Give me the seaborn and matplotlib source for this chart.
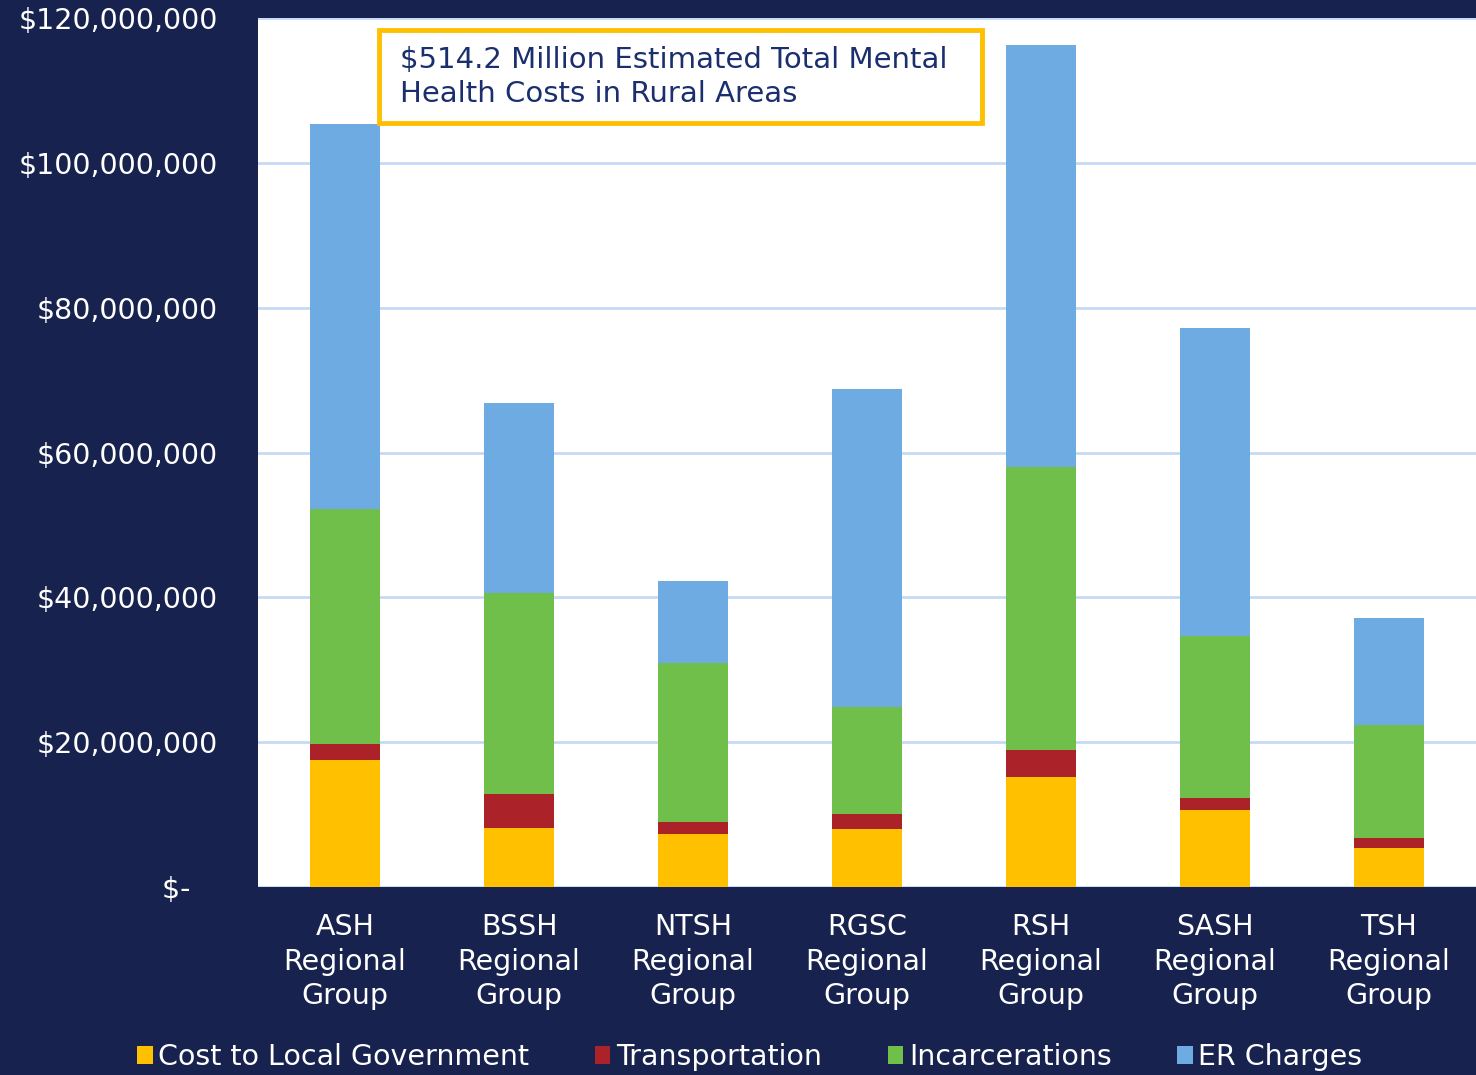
import numpy as np
import pandas as pd
import seaborn as sns
import matplotlib.pyplot as plt
from matplotlib.patches import Rectangle, Patch

groups = ["ASH", "BSSH", "NTSH", "RGSC", "RSH", "SASH", "TSH"]
cost_local = [17.5, 8.15, 7.3, 8.0, 15.2, 10.6, 5.4]
transport = [2.2, 4.7, 1.65, 2.1, 3.7, 1.65, 1.4]
incarcerations = [32.5, 27.75, 21.95, 14.8, 39.1, 22.4, 15.6]
er_charges = [53.2, 26.25, 11.3, 43.8, 58.3, 42.5, 14.8]

series_names = ["Cost to Local Government", "Transportation", "Incarcerations", "ER Charges"]
series_colors = ["#FFC000", "#AB2328", "#70BF4B", "#6DABE2"]
y_ticks = [0, 20, 40, 60, 80, 100, 120]
y_labels = ["$-   ", "$20,000,000", "$40,000,000", "$60,000,000",
            "$80,000,000", "$100,000,000", "$120,000,000"]
note = "$514.2 Million Estimated Total Mental\nHealth Costs in Rural Areas"

navy = "#18224F"
grid_c = "#C6D9F5"

sns.set_theme(style="white")
plt.rcParams["font.family"] = ["DejaVu Sans"]

df = pd.DataFrame({"group": [g + "\nRegional\nGroup" for g in groups],
                   "s0": cost_local, "s1": transport,
                   "s2": incarcerations, "s3": er_charges})
cols = ["s0", "s1", "s2", "s3"]
cum = df[cols].cumsum(axis=1)

fig = plt.figure(figsize=(14.76, 10.75), dpi=100)
fig.patch.set_facecolor(navy)
ax = fig.add_axes([258 / 1476, 1 - 887 / 1075, 1 - 258 / 1476, (887 - 18) / 1075])
ax.set_facecolor("white")

# draw cumulative totals from the top down so lower series cover upper ones
for i in reversed(range(4)):
    sns.barplot(x=df["group"], y=cum[cols[i]], color=series_colors[i],
                width=0.4, saturation=1, linewidth=0, ax=ax, zorder=3)

ax.set_ylim(0, 120)
ax.set_xlim(-0.5, 6.5)
ax.set_yticks(y_ticks)
ax.set_yticklabels(y_labels)
ax.yaxis.grid(True, color=grid_c, linewidth=2, zorder=0)
ax.set_axisbelow(True)
for s in ax.spines.values():
    s.set_visible(False)
ax.tick_params(axis="y", colors="white", labelsize=20.5, pad=29, length=0)
ax.tick_params(axis="x", colors="white", labelsize=20.5, pad=19, length=0)
for lab in ax.get_xticklabels():
    lab.set_linespacing(1.28)
ax.set_xlabel("")
ax.set_ylabel("")

ax.add_patch(Rectangle((121 / 1218, (887 - 123) / 869), 603 / 1218, 93 / 869,
                       transform=ax.transAxes, facecolor="white",
                       edgecolor="#FFC000", linewidth=3.5, zorder=5))
ax.text(142 / 1218, (887 - 46) / 869, note, transform=ax.transAxes,
        ha="left", va="top", color="#1B2F6E", fontsize=21,
        linespacing=1.25, zorder=6)

handles = [Patch(facecolor=c, edgecolor="none") for c in series_colors]
fig.legend(handles, series_names, loc="center", bbox_to_anchor=(0.508, 1 - 1057 / 1075),
           ncol=4, frameon=False, fontsize=20.5, labelcolor="white",
           handlelength=0.55, handleheight=0.55, handletextpad=0.2,
           columnspacing=2.3, borderaxespad=0)

fig.savefig("out.png", dpi=100, facecolor=navy)
